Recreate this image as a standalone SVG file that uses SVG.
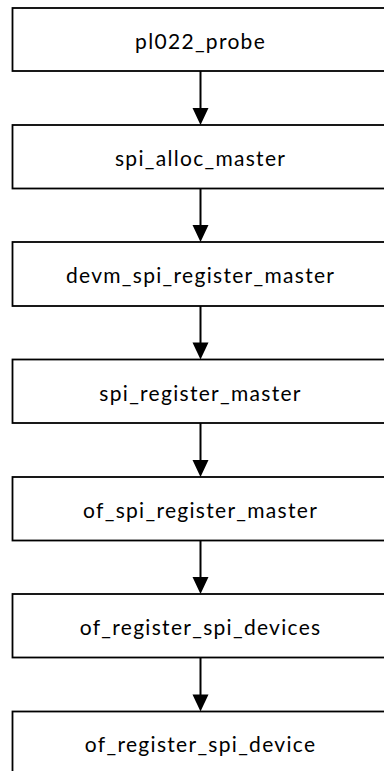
<svg xmlns="http://www.w3.org/2000/svg" width="384" height="771" viewBox="0 0 384 771">
<style>
.box{fill:#fff;stroke:#000;stroke-width:1.8}
.lbl{font-family:Lato,"Open Sans",sans-serif;font-size:21px;letter-spacing:1.3px;fill:#000;text-anchor:middle}
.edge{stroke:#000;stroke-width:2;fill:none}
.head{fill:#000}
</style>
<rect width="384" height="771" fill="#fff"/>
<g id="n1"><rect class="box" x="12.5" y="8" width="376" height="63"/><text class="lbl" x="200.6" y="49">pl022_probe</text></g>
<g id="n2"><rect class="box" x="12.5" y="125" width="376" height="63.5"/><text class="lbl" x="200.6" y="166">spi_alloc_master</text></g>
<g id="n3"><rect class="box" x="12.5" y="242" width="376" height="64"/><text class="lbl" x="200.6" y="283">devm_spi_register_master</text></g>
<g id="n4"><rect class="box" x="12.5" y="359.5" width="376" height="63.5"/><text class="lbl" x="200.6" y="400.5">spi_register_master</text></g>
<g id="n5"><rect class="box" x="12.5" y="477" width="376" height="63.5"/><text class="lbl" x="200.6" y="518">of_spi_register_master</text></g>
<g id="n6"><rect class="box" x="12.5" y="594" width="376" height="63.5"/><text class="lbl" x="200.6" y="635">of_register_spi_devices</text></g>
<g id="n7"><rect class="box" x="12.5" y="711.5" width="376" height="70"/><text class="lbl" x="200.6" y="752">of_register_spi_device</text></g>
<g id="edges">
<line class="edge" x1="200.5" y1="71" x2="200.5" y2="110"/><polygon class="head" points="192.5,108 208.5,108 200.5,125"/>
<line class="edge" x1="200.5" y1="188.5" x2="200.5" y2="227"/><polygon class="head" points="192.5,225 208.5,225 200.5,242"/>
<line class="edge" x1="200.5" y1="306" x2="200.5" y2="344"/><polygon class="head" points="192.5,342.5 208.5,342.5 200.5,359.5"/>
<line class="edge" x1="200.5" y1="423" x2="200.5" y2="462"/><polygon class="head" points="192.5,460 208.5,460 200.5,477"/>
<line class="edge" x1="200.5" y1="540.5" x2="200.5" y2="579"/><polygon class="head" points="192.5,577 208.5,577 200.5,594"/>
<line class="edge" x1="200.5" y1="657.5" x2="200.5" y2="696"/><polygon class="head" points="192.5,694.5 208.5,694.5 200.5,711.5"/>
</g>
</svg>
